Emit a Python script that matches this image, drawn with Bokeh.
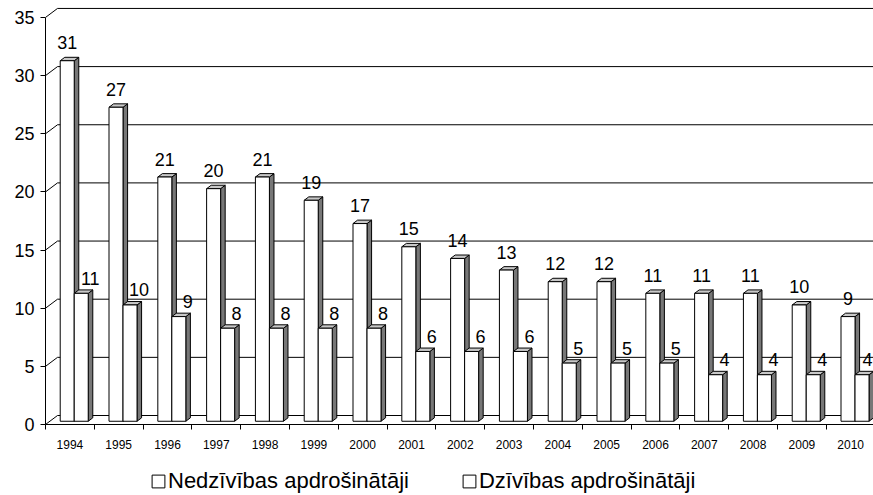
import numpy as np
from bokeh.plotting import figure
from bokeh.layouts import column
from bokeh.models import FixedTicker, Legend, LegendItem, ColumnDataSource, Range1d
from bokeh.core.properties import value
from bokeh.embed import file_html
from bokeh.resources import INLINE

# ---------------- data ----------------
years = ["1994", "1995", "1996", "1997", "1998", "1999", "2000", "2001", "2002",
         "2003", "2004", "2005", "2006", "2007", "2008", "2009", "2010"]
nedzivibas = [31, 27, 21, 20, 21, 19, 17, 15, 14, 13, 12, 12, 11, 11, 11, 10, 9]
dzivibas = [11, 10, 9, 8, 8, 8, 8, 6, 6, 6, 5, 5, 5, 4, 4, 4, 4]
series_names = ["Nedzīvības apdrošinātāji", "Dzīvības apdrošinātāji"]
y_ticks = [0, 5, 10, 15, 20, 25, 30, 35]

# ---------------- geometry ----------------
W = 873
H1, H2 = 460, 35
LEFT, BOTTOM = 45, 36
PX_X = 48.8     # pixels per category
PX_Y = 11.63    # pixels per value unit
x_end = (W - LEFT) / PX_X
y_end = (H1 - BOTTOM) / PX_Y
DX = 12 / PX_X  # full depth offset (data units)
DY = 9 / PX_Y
D0 = 0.36       # bar front depth fraction
BD = 0.38       # bar depth fraction
OFF = 0.213     # bar offset inside category
BW = 0.287      # bar width
FONT = "Liberation Sans"

p = figure(width=W, height=H1, output_backend="svg", toolbar_location=None,
           x_range=Range1d(0, x_end), y_range=Range1d(0, y_end),
           min_border_left=LEFT, min_border_right=0, min_border_top=0,
           min_border_bottom=BOTTOM)
p.outline_line_color = None
p.xgrid.visible = False
p.ygrid.visible = False
p.background_fill_color = "white"
p.border_fill_color = "white"

# walls: side-wall diagonals and back-wall gridlines
tv = np.array(y_ticks, dtype=float)
p.segment(x0=np.zeros_like(tv), y0=tv, x1=np.full_like(tv, DX), y1=tv + DY,
          line_color="black", line_width=1)
p.segment(x0=np.full_like(tv, DX), y0=tv + DY, x1=np.full_like(tv, x_end), y1=tv + DY,
          line_color="black", line_width=1)

# bars
for s, vals in enumerate([nedzivibas, dzivibas]):
    v = np.array(vals, dtype=float)
    idx = np.arange(len(v))
    xl = idx + OFF + s * BW + D0 * DX
    xr = xl + BW
    yb = np.full_like(v, D0 * DY)
    yt = yb + v
    sx = BD * DX
    sy = BD * DY
    side_xs = [[a, a + sx, a + sx, a] for a in xr]
    side_ys = [[b, b + sy, t + sy, t] for b, t in zip(yb, yt)]
    top_xs = [[a, c, c + sx, a + sx] for a, c in zip(xl, xr)]
    top_ys = [[t, t, t + sy, t + sy] for t in yt]
    p.patches(side_xs, side_ys, fill_color="#777777", line_color="black", line_width=1)
    p.patches(top_xs, top_ys, fill_color="#c8c8c8", line_color="black", line_width=1)
    p.quad(left=xl, right=xr, bottom=yb, top=yt, fill_color="white",
           line_color="black", line_width=1)

    # value labels
    if s == 0:
        lx = (xl + xr) / 2
        ly = yt + 18 / PX_Y
    else:
        lx = np.minimum((xl + xr) / 2 + 9 / PX_X, x_end - 6 / PX_X)
        ly = yt + 15 / PX_Y
    src = ColumnDataSource(dict(x=lx, y=ly, t=[str(int(a)) for a in vals]))
    p.text(x="x", y="y", text="t", source=src, text_align="center",
           text_baseline="middle", text_font=value(FONT), text_font_size="18px",
           text_color="black")

# y axis
ya = p.yaxis[0]
ya.ticker = FixedTicker(ticks=y_ticks)
ya.bounds = (0, 35)
ya.axis_line_color = "black"
ya.major_tick_in = 0
ya.major_tick_out = 5
ya.minor_tick_out = 0
ya.minor_tick_in = 0
ya.major_label_standoff = 6
ya.major_label_text_font = FONT
ya.major_label_text_font_size = "18px"
ya.major_label_text_color = "black"

# x axis
xa = p.xaxis[0]
centers = [i + 0.5 for i in range(len(years))]
xa.ticker = FixedTicker(ticks=centers, minor_ticks=list(range(len(years) + 1)))
xa.major_label_overrides = {c: y for c, y in zip(centers, years)}
xa.axis_line_color = "black"
xa.major_tick_in = 0
xa.major_tick_out = 0
xa.minor_tick_in = 0
xa.minor_tick_out = 5
xa.major_label_standoff = 10
xa.major_label_text_font = FONT
xa.major_label_text_font_size = "12px"
xa.major_label_text_color = "black"

# legend strip
p2 = figure(width=W, height=H2, output_backend="svg", toolbar_location=None,
            x_range=Range1d(0, 1), y_range=Range1d(0, 1), min_border=0,
            x_axis_location=None, y_axis_location=None)
p2.outline_line_color = None
p2.xgrid.visible = False
p2.ygrid.visible = False
legend_renderers = []
for name in series_names:
    # placeholder outside the visible range: only its style is used by the legend
    r = p2.quad(left=[2], right=[3], bottom=[2], top=[3], fill_color="white",
                line_color="black", line_width=1)
    legend_renderers.append(r)
legend = Legend(items=[LegendItem(label=n, renderers=[r])
                       for n, r in zip(series_names, legend_renderers)],
                orientation="horizontal", location=(105, 1))
legend.border_line_color = None
legend.background_fill_alpha = 0
legend.label_text_font = FONT
legend.label_text_font_size = "22px"
legend.label_text_color = "black"
legend.glyph_width = 16
legend.glyph_height = 16
legend.label_standoff = 2
legend.spacing = 52
legend.padding = 0
legend.margin = 0
p2.add_layout(legend, "center")

layout = column(p, p2, spacing=0)
open("out.html", "w").write(file_html(layout, INLINE))
